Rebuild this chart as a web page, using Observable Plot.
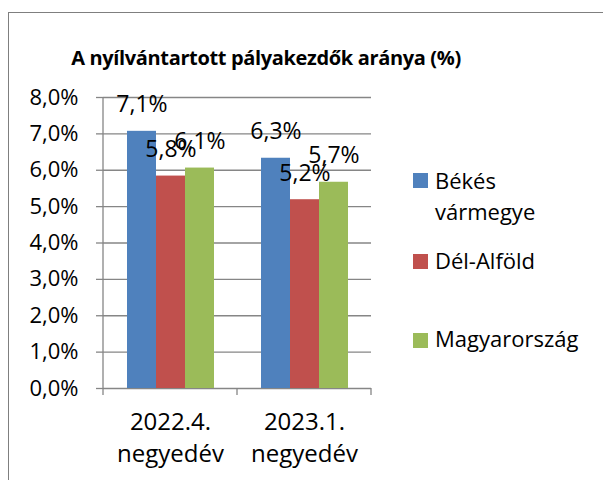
<!DOCTYPE html>
<html>
<head>
<meta charset="utf-8">
<script src="https://cdn.jsdelivr.net/npm/d3@7"></script>
<script src="https://cdn.jsdelivr.net/npm/@observablehq/plot@0.6"></script>
<style>
  body { margin: 0; background: #fff; }
  #wrap { position: relative; width: 603px; height: 480px; overflow: hidden; background: #fff; font-family: "Open Sans", sans-serif; color: #000; }
  #frame { position: absolute; left: 8px; top: 12px; width: 700px; height: 600px; border-left: 1px solid #7f7f7f; border-top: 1px solid #7f7f7f; }
  #chart { position: absolute; left: 0; top: 0; }
  #title { position: absolute; left: 8px; width: 516px; top: 44px; text-align: center; font-weight: bold; font-size: 20px; letter-spacing: -0.35px; white-space: nowrap; }
  .leg { position: absolute; left: 413px; font-size: 22px; line-height: 31px; }
  .sw { position: absolute; left: 0; width: 15px; height: 15px; }
  .lt { position: absolute; left: 22px; width: 155px; }
</style>
</head>
<body>
<div id="wrap">
  <div id="frame"></div>
  <div id="chart"></div>
  <div id="title"></div>
</div>
<script>
const chartTitle = "A nyílvántartott pályakezdők aránya (%)";
const categories = ["2022.4.\nnegyedév", "2023.1.\nnegyedév"];
const seriesNames = ["Békés vármegye", "Dél-Alföld", "Magyarország"];
const seriesColors = ["#4F81BD", "#C0504D", "#9BBB59"];
const bekes = [7.07, 6.33];
const delAlfold = [5.84, 5.19];
const magyarorszag = [6.06, 5.67];
const yTicks = [0, 1, 2, 3, 4, 5, 6, 7, 8];

const seriesValues = [bekes, delAlfold, magyarorszag];
const data = [];
categories.forEach((c, ci) => {
  seriesNames.forEach((s, si) => {
    data.push({cat: c, series: s, value: seriesValues[si][ci]});
  });
});

const fmt = v => d3.format(".1f")(v).replace(".", ",") + "%";
const grid = "#868686";

const plot = Plot.plot({
  width: 603,
  height: 480,
  marginLeft: 103,
  marginRight: 232,
  marginTop: 97,
  marginBottom: 92,
  style: {fontFamily: "Open Sans, sans-serif", fontSize: "22px", color: "#000", background: "transparent", overflow: "visible"},
  fx: {domain: categories, padding: 0},
  x: {domain: seriesNames, paddingInner: 0, paddingOuter: 0.77, axis: null},
  y: {domain: [0, 8]},
  color: {domain: seriesNames, range: seriesColors},
  marks: [
    Plot.ruleY(yTicks, {stroke: grid, strokeWidth: 1.3}),
    Plot.barY(data, {fx: "cat", x: "series", y: "value", fill: "series"}),
    Plot.text(data, {fx: "cat", x: "series", y: "value", text: d => fmt(d.value), lineAnchor: "bottom", dy: -19, fontSize: 23, fill: "#000"}),
    Plot.axisY({ticks: yTicks, tickSize: 7, tickPadding: 18, tickFormat: fmt, stroke: grid, strokeWidth: 1.3, fontSize: 22, label: null}),
    Plot.axisFx({anchor: "bottom", tickSize: 0, tickPadding: 19, fontSize: 24, lineHeight: 1.32, label: null, tickFormat: d => d})
  ]
});

// axis line and category boundary ticks from the scales
const fxs = plot.scale("fx"), ys = plot.scale("y");
const svg = d3.select(plot);
const g = svg.append("g").attr("stroke", grid).attr("stroke-width", 1.3);
const xLeft = fxs.apply(categories[0]);
const bounds = categories.map(c => fxs.apply(c)).concat([fxs.apply(categories[categories.length - 1]) + fxs.bandwidth]);
g.append("line").attr("x1", xLeft).attr("x2", xLeft).attr("y1", ys.apply(8)).attr("y2", ys.apply(0));
bounds.forEach(b => {
  g.append("line").attr("x1", b).attr("x2", b).attr("y1", ys.apply(0)).attr("y2", ys.apply(0) + 7);
});
document.getElementById("chart").appendChild(plot);

document.getElementById("title").textContent = chartTitle;

// legend
const legendTops = [165, 245, 323];
const swatchOffset = [8, 9, 10];
const wrap = document.getElementById("wrap");
seriesNames.forEach((s, i) => {
  const item = document.createElement("div");
  item.className = "leg";
  item.style.top = legendTops[i] + "px";
  const sw = document.createElement("div");
  sw.className = "sw";
  sw.style.background = seriesColors[i];
  sw.style.top = swatchOffset[i] + "px";
  const t = document.createElement("div");
  t.className = "lt";
  t.textContent = s;
  item.appendChild(sw);
  item.appendChild(t);
  wrap.appendChild(item);
});
</script>
</body>
</html>
